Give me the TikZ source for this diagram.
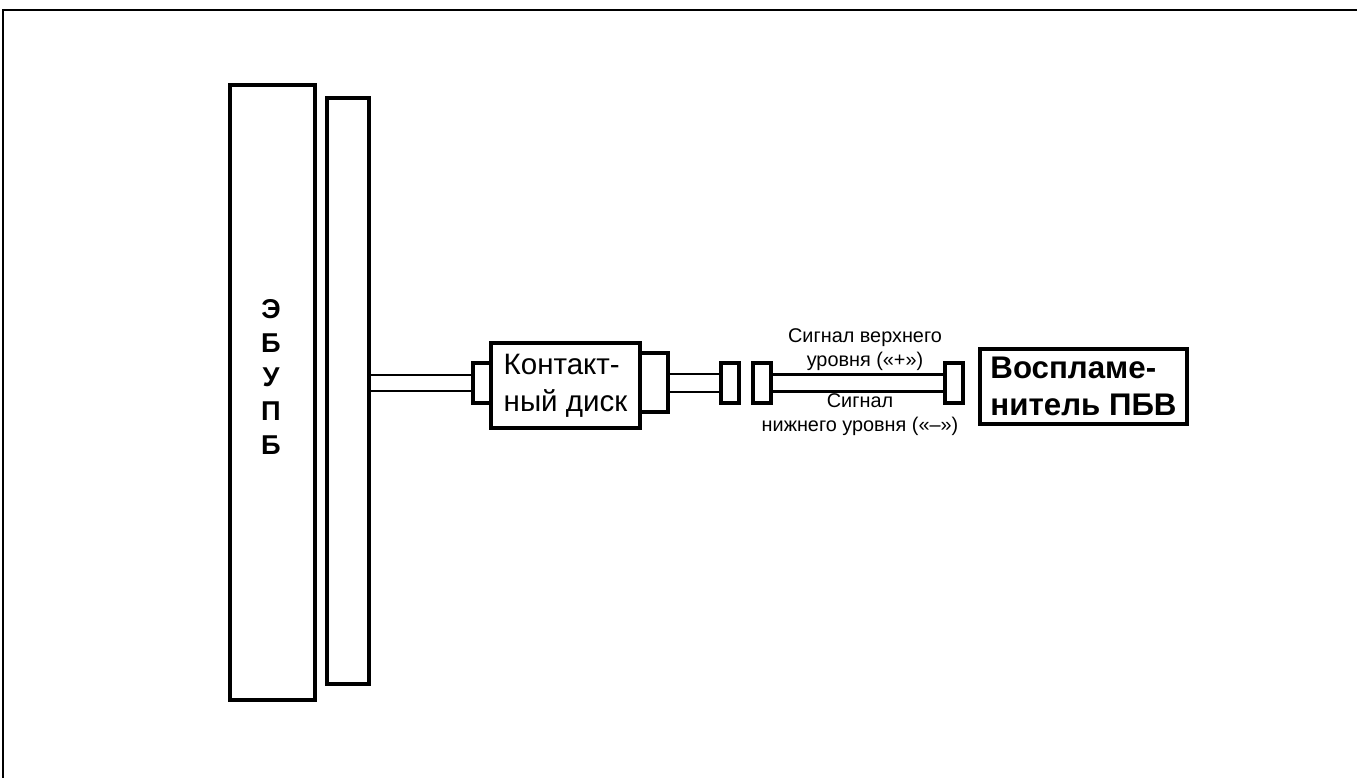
\documentclass[tikz,border=0pt]{standalone}
\usepackage{fontspec}
\setmainfont{Liberation Sans}
\usetikzlibrary{positioning}
\begin{document}
\begin{tikzpicture}[x=0.02cm, y=-0.02cm, box/.style = {draw, line width=2.2pt, inner sep=0pt, outer sep=0pt}, wire/.style = {line width=1.5pt}, sig/.style = {align=center, font=\fontsize{11.3}{13.6}\selectfont}]
      \useasboundingbox (0,0) rectangle (1357,778);
      \draw [line width=1.3pt] (1357,10) -- (3,10) -- (3,778);

      \node[box] (ebu) [minimum width=1.7cm, minimum height=12.3cm] at (272.5,392.5) {};
      \node (ebutxt) [align=center, font=\bfseries\fontsize{15.5}{19.3}\selectfont] at (271,377) {Э\\Б\\У\\П\\Б};
      \node[box] (panel) [minimum width=0.84cm, minimum height=11.72cm] at (348,391) {};

      \node[box] (disk) [minimum width=2.98cm, minimum height=1.7cm, align=left, font=\fontsize{16.8}{21}\selectfont] at (565.5,385.5) {Контакт-\\ный диск};
      \node[box] (lblk) [left=0pt of disk, yshift=0.05cm, minimum width=0.36cm, minimum height=0.8cm] {};
      \node[box] (rblk) [right=0pt of disk, yshift=0.06cm, minimum width=0.56cm, minimum height=1.18cm] {};

      \node[box] (blka) [minimum width=0.36cm, minimum height=0.8cm] at (730,383) {};
      \node[box] (blkb) [minimum width=0.36cm, minimum height=0.8cm] at (762,383) {};
      \node[box] (blkc) [minimum width=0.36cm, minimum height=0.8cm] at (954,383) {};

      \node[box] (ign) [minimum width=4.14cm, minimum height=1.5cm, align=left, font=\bfseries\fontsize{17.8}{21}\selectfont] at (1083.5,386.5) {Воспламе-\\нитель ПБВ};

      \node[sig] (sigup) at (865,350) {Сигнал верхнего\\уровня («+»)};
      \node[sig] (siglo) at (860,415) {Сигнал\\нижнего уровня («–»)};

      \draw [wire] ([yshift=0.16cm]lblk.west) -- ([yshift=0.16cm]lblk.west -| panel.east);
      \draw [wire] ([yshift=-0.16cm]lblk.west) -- ([yshift=-0.16cm]lblk.west -| panel.east);
      \draw [wire] ([yshift=0.18cm]blka.west) -- ([yshift=0.18cm]blka.west -| rblk.east);
      \draw [wire] ([yshift=-0.18cm]blka.west) -- ([yshift=-0.18cm]blka.west -| rblk.east);
      \draw [wire] ([yshift=0.17cm]blkb.east) -- ([yshift=0.17cm]blkb.east -| blkc.west);
      \draw [wire] ([yshift=-0.17cm]blkb.east) -- ([yshift=-0.17cm]blkb.east -| blkc.west);
  \end{tikzpicture}
\end{document}
